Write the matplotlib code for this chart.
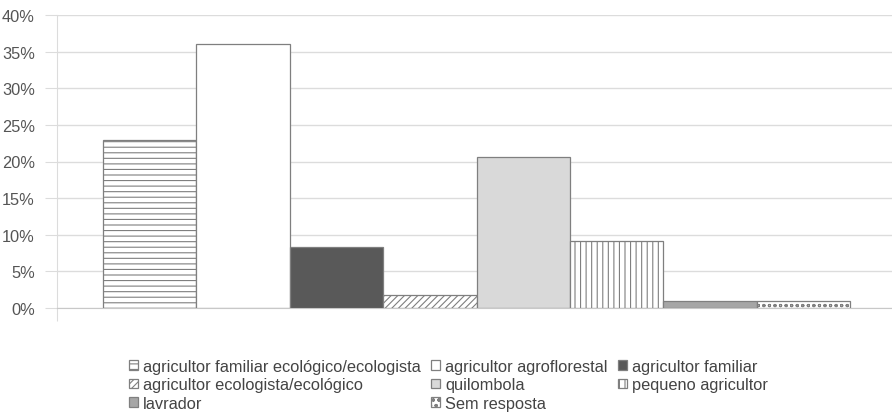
import numpy as np
import matplotlib.pyplot as plt

plt.rcParams['font.family'] = ['Liberation Sans', 'DejaVu Sans']
plt.rcParams['hatch.linewidth'] = 0.8

categorias = ['agricultor familiar ecológico/ecologista', 'agricultor agroflorestal',
              'agricultor familiar', 'agricultor ecologista/ecológico', 'quilombola',
              'pequeno agricultor', 'lavrador', 'Sem resposta']
valores = [23.0, 36.1, 8.3, 1.8, 20.6, 9.2, 0.9, 0.9]
cores = ['white', 'white', '#595959', 'white', '#d9d9d9', 'white', '#a6a6a6', 'white']
hachuras = ['---', None, None, '/////', None, '|||', None, 'ooo']
yticks = [0, 5, 10, 15, 20, 25, 30, 35, 40]

fig = plt.figure(figsize=(8.92, 4.14), dpi=100)
ax = fig.add_axes([57/892, 1-309/414, (892-57)/892, (309-16)/414])

barras = []
for i in range(len(valores)):
    b = ax.bar(i, valores[i], width=1.0, align='edge', color=cores[i],
               edgecolor='#7f7f7f', linewidth=0.9, hatch=hachuras[i],
               label=categorias[i], zorder=3)
    barras.append(b)

ax.set_xlim(-0.493, 8.45)
ax.set_ylim(0, 40)
ax.set_yticks(yticks)
ax.set_yticklabels([f'{v}%' for v in yticks], color='#555555', fontsize=11.8)
ax.yaxis.grid(True, color='#dcdcdc', linewidth=1, zorder=0)
ax.tick_params(axis='y', length=9, color='#dcdcdc', pad=7)
ax.set_xticks([-0.493])
ax.set_xticklabels([''])
ax.tick_params(axis='x', length=9, color='#dcdcdc')
for s in ['top', 'right']:
    ax.spines[s].set_visible(False)
ax.spines['left'].set_color('#dcdcdc')
ax.spines['bottom'].set_color('#c8c8c8')

ordem = [0, 3, 6, 1, 4, 7, 2, 5]
fig.legend([barras[i] for i in ordem], [categorias[i] for i in ordem],
           loc='upper left', bbox_to_anchor=(129/892, 1-360/414), ncol=3,
           frameon=False, fontsize=11.8, labelcolor='#444444',
           handlelength=0.55, handleheight=0.55, handletextpad=0.3,
           columnspacing=0.65, labelspacing=0.2, borderpad=0, borderaxespad=0)

plt.savefig('out.png', dpi=100)
